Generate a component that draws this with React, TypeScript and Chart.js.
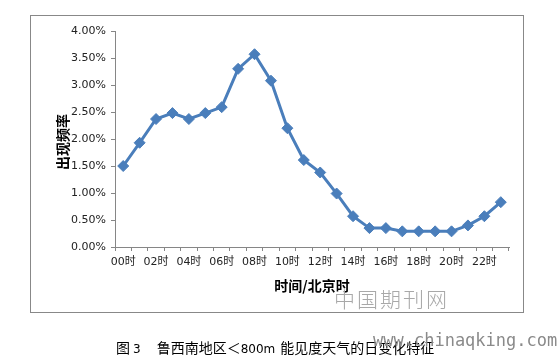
import React, { useEffect, useRef } from "react";
import { Chart, registerables } from "chart.js";

Chart.register(...registerables);

const hours: string[] = [
  "00时", "01时", "02时", "03时", "04时", "05时", "06时", "07时",
  "08时", "09时", "10时", "11时", "12时", "13时", "14时", "15时",
  "16时", "17时", "18时", "19时", "20时", "21时", "22时", "23时",
];

const frequency: number[] = [
  1.5, 1.93, 2.37, 2.48, 2.37, 2.48, 2.59, 3.3,
  3.57, 3.08, 2.2, 1.61, 1.38, 0.99, 0.57, 0.35,
  0.35, 0.29, 0.29, 0.29, 0.29, 0.4, 0.57, 0.83,
];

const yMin = 0;
const yMax = 4;
const yStep = 0.5;

const yTitle = "出现频率";
const xTitle = "时间/北京时";
const caption1 = "图";
const caption2 = "3";
const caption3 = "鲁西南地区＜";
const caption4 = "800m";
const caption5 = "能见度天气的日变化特征";
const watermark1 = "中国期刊网";
const watermark2 = "www.chinaqking.com";

const LINE = "#4a7ebb";
const AXIS = "#868686";
const FONT = "'DejaVu Sans', 'Noto Sans CJK SC', sans-serif";

export default function App() {
  const ref = useRef<HTMLCanvasElement | null>(null);

  useEffect(() => {
    if (!ref.current) return;
    const chart = new Chart(ref.current, {
      type: "line",
      data: {
        labels: hours,
        datasets: [
          {
            data: frequency,
            borderColor: LINE,
            backgroundColor: LINE,
            borderWidth: 3,
            pointStyle: "rectRot",
            pointRadius: 5.5,
            pointBackgroundColor: LINE,
            pointBorderColor: LINE,
            pointBorderWidth: 1,
            tension: 0,
          },
        ],
      },
      options: {
        responsive: false,
        animation: false,
        layout: { padding: { top: 31, right: 48, bottom: 0, left: 0 } },
        plugins: { legend: { display: false }, tooltip: { enabled: false } },
        scales: {
          x: {
            type: "category",
            offset: true,
            afterFit: (s: any) => {
              s.height = 111;
            },
            grid: {
              offset: true,
              drawOnChartArea: false,
              drawTicks: true,
              tickLength: 4,
              color: AXIS,
            },
            border: { color: AXIS, width: 1 },
            ticks: {
              autoSkip: false,
              maxRotation: 0,
              minRotation: 0,
              padding: 5,
              color: "#222",
              font: { family: FONT, size: 11 },
              callback: (_v: any, i: number) => (i % 2 === 0 ? hours[i] : ""),
            },
          },
          y: {
            min: yMin,
            max: yMax,
            afterFit: (s: any) => {
              s.width = 115;
            },
            grid: {
              drawOnChartArea: false,
              drawTicks: true,
              tickLength: 4,
              color: AXIS,
            },
            border: { color: AXIS, width: 1 },
            ticks: {
              stepSize: yStep,
              padding: 5,
              color: "#222",
              font: { family: FONT, size: 11 },
              callback: (v: any) => Number(v).toFixed(2) + "%",
            },
          },
        },
      },
    });
    return () => chart.destroy();
  }, []);

  return (
    <div
      style={{
        position: "absolute",
        left: 0,
        top: 0,
        width: 557,
        height: 358,
        background: "#fff",
        overflow: "hidden",
        fontFamily: FONT,
      }}
    >
      <div
        style={{
          position: "absolute",
          left: 30,
          top: 15,
          width: 492,
          height: 296,
          border: "1px solid #888",
        }}
      />
      <canvas
        ref={ref}
        width={557}
        height={358}
        style={{ position: "absolute", left: 0, top: 0, width: 557, height: 358 }}
      />
      <div
        style={{
          position: "absolute",
          left: 62,
          top: 142,
          transform: "translate(-50%, -50%) rotate(-90deg)",
          fontSize: 14,
          fontWeight: "bold",
          color: "#000",
          whiteSpace: "nowrap",
          fontFamily: "'Noto Sans CJK SC', sans-serif",
          lineHeight: 1,
        }}
      >
        {yTitle}
      </div>
      <div
        style={{
          position: "absolute",
          left: 312,
          top: 285,
          transform: "translate(-50%, -50%)",
          fontSize: 14,
          fontWeight: "bold",
          color: "#000",
          whiteSpace: "nowrap",
          fontFamily: "'Noto Sans CJK SC', sans-serif",
          lineHeight: 1,
        }}
      >
        {xTitle}
      </div>
      <div
        style={{
          position: "absolute",
          left: 334,
          top: 298,
          transform: "translateY(-50%)",
          fontSize: 21,
          color: "#a8a8a8",
          whiteSpace: "nowrap",
          letterSpacing: 2,
          fontFamily: "'Noto Sans CJK SC', sans-serif",
          fontWeight: 300,
          lineHeight: 1,
        }}
      >
        {watermark1}
      </div>
      <div
        style={{
          position: "absolute",
          left: 116,
          top: 347,
          transform: "translateY(-50%)",
          fontSize: 14,
          color: "#000",
          whiteSpace: "nowrap",
          fontFamily: "'Noto Sans CJK SC', sans-serif",
          lineHeight: 1,
        }}
      >
        <span>{caption1}</span>
        <span style={{ fontSize: 12, fontFamily: FONT, marginLeft: 3 }}>{caption2}</span>
        <span style={{ marginLeft: 16 }}>{caption3}</span>
        <span style={{ fontSize: 12, fontFamily: FONT }}>{caption4}</span>
        <span style={{ marginLeft: 5 }}>{caption5}</span>
      </div>
      <div
        style={{
          position: "absolute",
          left: 373,
          top: 340,
          transform: "translateY(-50%)",
          fontSize: 17,
          color: "#8a8a8a",
          whiteSpace: "nowrap",
          fontFamily: "'DejaVu Sans Mono', monospace",
          lineHeight: 1,
        }}
      >
        {watermark2}
      </div>
    </div>
  );
}
